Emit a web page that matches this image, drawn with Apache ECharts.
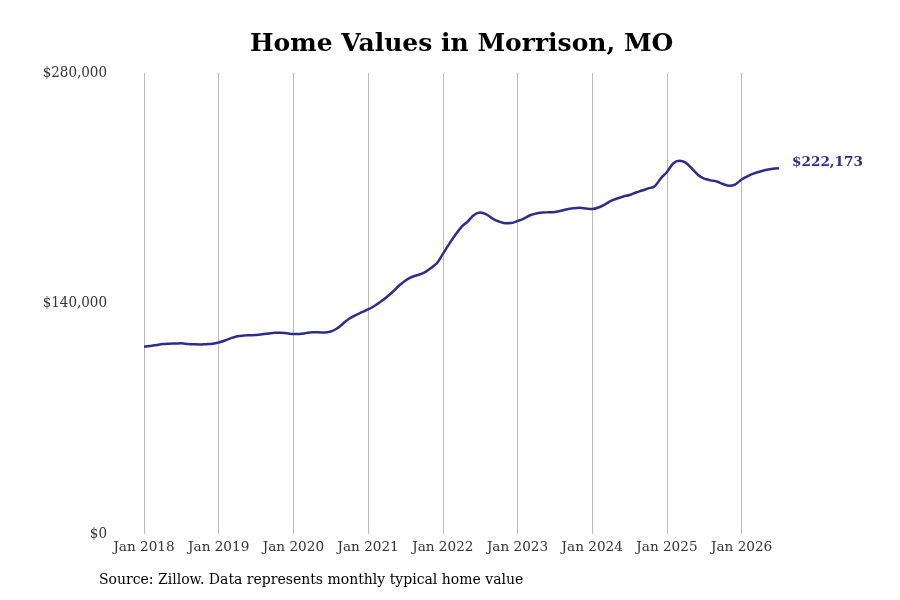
<!DOCTYPE html>
<html>
<head>
<meta charset="utf-8">
<script src="https://cdn.jsdelivr.net/npm/echarts@6/dist/echarts.min.js"></script>
<style>
  html, body { margin: 0; padding: 0; background: #fff; }
  #main { width: 900px; height: 600px; }
</style>
</head>
<body>
<div id="main"></div>
<script>
// monthly typical home value, Jan 2018 .. Jul 2026 (thousands)
var startYear = 2018;
var homeValues = [
  113.8, 114.2, 114.8, 115.4, 115.6, 115.7, 115.8, 115.4, 115.2, 115.1, 115.3, 115.5,
  116.3, 117.5, 119.0, 120.1, 120.5, 120.7, 120.9, 121.3, 121.8, 122.3, 122.2, 121.9,
  121.4, 121.5, 122.0, 122.5, 122.5, 122.4, 123.0, 124.8, 127.9, 130.9, 133.0, 134.7,
  136.4, 138.5, 141.1, 144.0, 147.3, 150.9, 154.0, 156.1, 157.3, 158.8, 161.3, 164.3,
  170.1, 176.1, 181.6, 186.5, 189.8, 193.8, 195.2, 194.1, 191.6, 189.8, 188.8, 188.9,
  190.1, 191.6, 193.6, 194.7, 195.2, 195.4, 195.6, 196.3, 197.3, 197.8, 198.1, 197.7,
  197.4, 198.3, 200.1, 202.3, 203.8, 205.0, 205.9, 207.4, 208.6, 209.9, 211.1, 215.9,
  219.9, 225.0, 226.7, 225.6, 222.0, 218.1, 215.8, 214.8, 214.1, 212.6, 211.5, 212.4,
  215.3, 217.4, 219.0, 220.2, 221.2, 221.9, 222.173
];
var yTicks = [0, 140000, 280000];

var monthNames = ['Jan','Feb','Mar','Apr','May','Jun','Jul','Aug','Sep','Oct','Nov','Dec'];
var categories = [];
var values = [];
for (var i = 0; i < homeValues.length; i++) {
  categories.push(monthNames[i % 12] + ' ' + (startYear + Math.floor(i / 12)));
  values.push(Math.round(homeValues[i] * 1000));
}

function money(v) {
  return '$' + v.toLocaleString('en-US');
}

var chart = echarts.init(document.getElementById('main'));
var option = {
  animation: false,
  backgroundColor: '#fff',
  title: {
    text: 'Home Values in Morrison, MO',
    left: 250,
    top: 32,
    padding: 0,
    textStyle: {
      fontFamily: 'DejaVu Serif',
      fontWeight: 'bold',
      fontSize: 25,
      color: '#000'
    }
  },
  grid: { left: 144, right: 121, top: 73, bottom: 66 },
  xAxis: {
    type: 'category',
    data: categories,
    boundaryGap: false,
    axisLine: { show: false },
    axisTick: { show: false },
    axisLabel: {
      interval: function (idx) { return idx % 12 === 0; },
      fontFamily: 'DejaVu Serif',
      fontSize: 13.6,
      color: '#333',
      margin: 6
    },
    splitLine: {
      show: true,
      interval: function (idx) { return idx % 12 === 0; },
      lineStyle: { color: '#bbb', width: 1 }
    }
  },
  yAxis: {
    type: 'value',
    min: yTicks[0],
    max: yTicks[yTicks.length - 1],
    interval: yTicks[1] - yTicks[0],
    axisLine: { show: false },
    axisTick: { show: false },
    splitLine: { show: false },
    axisLabel: {
      formatter: function (v) { return money(v); },
      fontFamily: 'DejaVu Serif Condensed, DejaVu Serif',
      fontSize: 15,
      color: '#333',
      margin: 37,
      padding: [4, 0, 0, 0]
    }
  },
  series: [{
    type: 'line',
    data: values,
    showSymbol: false,
    smooth: 0.3,
    lineStyle: { color: '#2e2e8a', width: 2.5 },
    endLabel: {
      show: true,
      formatter: function (p) { return money(p.value); },
      fontFamily: 'DejaVu Serif',
      fontWeight: 'bold',
      fontSize: 13.6,
      color: '#2e2e8a',
      distance: 13,
      offset: [0, -6]
    }
  }],
  graphic: [{
    type: 'text',
    left: 99,
    top: 573,
    style: {
      text: 'Source: Zillow. Data represents monthly typical home value',
      font: '14px "DejaVu Serif"',
      fill: '#000'
    }
  }]
};
chart.setOption(option);
</script>
</body>
</html>
